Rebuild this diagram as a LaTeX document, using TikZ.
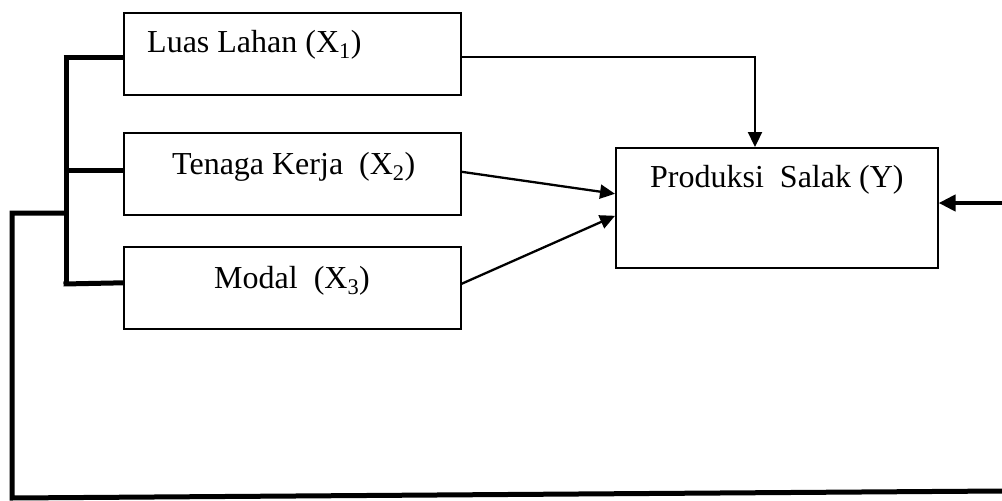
\documentclass[tikz,border=0pt]{standalone}
\usepackage{fontspec}
\setmainfont{Liberation Serif}
\usetikzlibrary{arrows.meta}
\begin{document}
\begin{tikzpicture}[x=1pt,y=-1pt,
 box/.style={draw,line width=1.6pt,minimum width=337pt,minimum height=82pt,inner sep=0pt,anchor=north west},
 lbl/.style={anchor=base west,inner sep=0pt,font=\fontsize{32}{38}\selectfont},
 conn/.style={line width=2.3pt,-{Triangle[length=15pt,width=14pt]}},
 heavy/.style={line width=5pt,line join=miter}]
\useasboundingbox (0,0) rectangle (1002,501);
\node[box] (b1) at (123,12) {};
\node[box] (b2) at (123,132) {};
\node[box] (b3) at (123,246) {};
\node[box,minimum width=322pt,minimum height=120pt] (y) at (615,147) {};
\node[lbl] (t1) at (147,52) {Luas Lahan (X\textsubscript{1})};
\node[lbl] (t2) at (172,174) {Tenaga Kerja~ (X\textsubscript{2})};
\node[lbl] (t3) at (214,288) {Modal~ (X\textsubscript{3})};
\node[lbl] (ty) at (650,187) {Produksi~ Salak (Y)};
\coordinate (c1) at (755,147);
\draw[conn] ([yshift=-3pt]b1.east) -| (c1);
\draw[conn] ([yshift=2pt]b2.east) -- ([yshift=14pt]y.west);
\draw[conn] ([yshift=4pt]b3.east) -- ([yshift=-8pt]y.west);
\coordinate (r) at (1002,203);
\draw[line width=4.5pt,-{Triangle[length=17pt,width=16pt]}] (r) -- (y.east |- r);
\coordinate (k1) at (66,57);
\coordinate (k2) at (66,170);
\coordinate (k3) at (66,284);
\draw[heavy] (k1) -- (k3);
\draw[heavy] ([xshift=-2.5pt]k1) -- (b1.west |- k1);
\draw[heavy] (k2) -- (b2.west |- k2);
\draw[heavy] ([xshift=-2.5pt]k3) -- ([yshift=5pt]b3.west);
\coordinate (m) at (66,213);
\coordinate (o1) at (12,213);
\coordinate (o2) at (12,498);
\coordinate (o3) at (1002,491);
\draw[heavy] (m) -- (o1) -- (o2) -- (o3);
\end{tikzpicture}
\end{document}
